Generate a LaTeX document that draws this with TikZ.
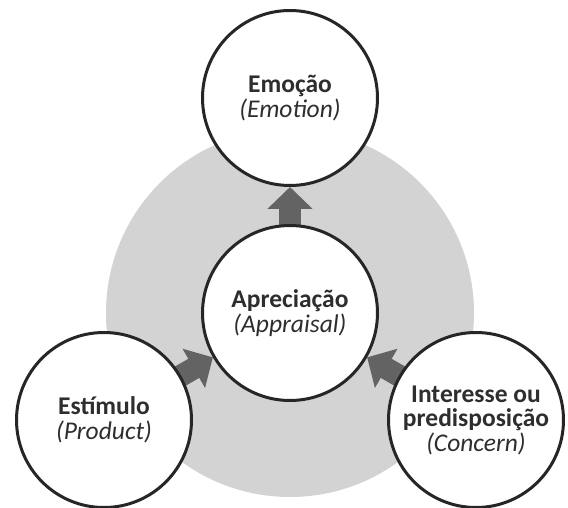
\documentclass[tikz,border=0pt]{standalone}
\usepackage{fontspec}
\setmainfont{Carlito}
\usetikzlibrary{arrows.meta}
\pgfdeclarelayer{back}
\pgfdeclarelayer{mid}
\pgfsetlayers{back,mid,main}
\definecolor{bggray}{HTML}{D3D3D3}
\definecolor{arrowgray}{HTML}{636363}
\definecolor{ringcol}{HTML}{262626}
\definecolor{txtcol}{HTML}{2E2E2E}
\tikzset{
  bubble/.style={circle, draw=ringcol, line width=3pt, fill=white, minimum size=175pt,
    inner sep=0pt, align=center, text=txtcol, font=\fontsize{25.5}{24.5}\selectfont},
  blockarrow/.style={draw=arrowgray, line width=22pt, shorten <=-8pt,
    -{Triangle[width=44pt,length=22pt]}}
}
\begin{document}
\begin{tikzpicture}[x=1pt,y=-1pt]
\useasboundingbox (0,0) rectangle (568,508);
\node[bubble] (apr) at (290,313) {\textbf{Apreciação}\\\textit{(Appraisal)}};
\node[bubble] (emo) at (290,98) {\textbf{Emoção}\\\textit{(Emotion)}};
\node[bubble] (est) at (104,420) {\textbf{Estímulo}\\\textit{(Product)}};
\node[bubble] (int) at (476,420) {\textbf{Interesse ou}\\\textbf{predisposição}\\\textit{(Concern)}};
\begin{pgfonlayer}{back}
\fill[bggray] (apr.center) circle[radius=184];
\end{pgfonlayer}
\begin{pgfonlayer}{mid}
\draw[blockarrow] (apr) -- (emo);
\draw[blockarrow] (est) -- (apr);
\draw[blockarrow] (int) -- (apr);
\end{pgfonlayer}
\end{tikzpicture}
\end{document}
